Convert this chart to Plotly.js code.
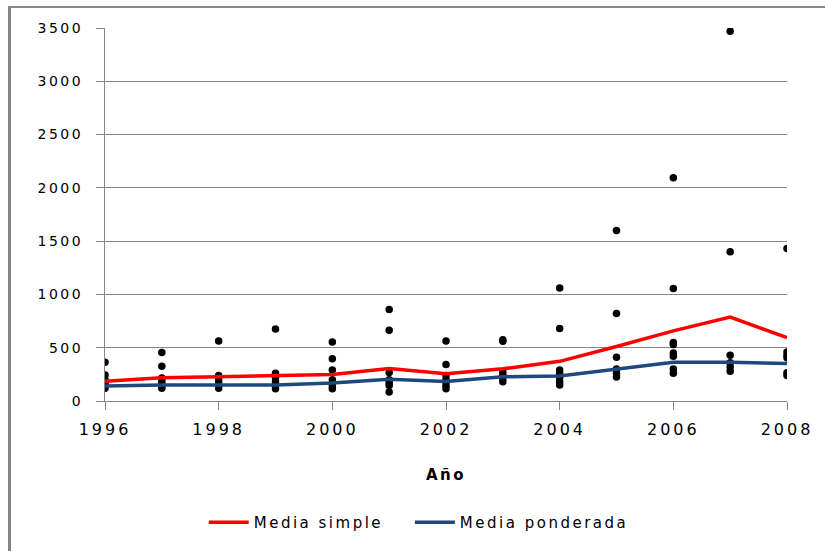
<!DOCTYPE html>
<html>
<head>
<meta charset="utf-8">
<script src="https://cdn.plot.ly/plotly-3.0.1.min.js"></script>
<style>
  html, body { margin: 0; padding: 0; background: #ffffff; }
  #wrap { position: relative; width: 825px; height: 551px; overflow: hidden; }
  #chart { position: absolute; left: 0; top: 0; width: 825px; height: 551px; }
  #frame { position: absolute; left: 8px; top: 6px; width: 830px; height: 560px;
           border-left: 3px solid #868686; border-top: 2px solid #868686; pointer-events: none; }
  svg text { letter-spacing: 2.5px; }
  .xtick text { letter-spacing: 3px; }
</style>
</head>
<body>
<div id="wrap">
  <div id="chart"></div>
  <div id="frame"></div>
</div>
<script>
const years = [1996, 1997, 1998, 1999, 2000, 2001, 2002, 2003, 2004, 2005, 2006, 2007, 2008];

const mediaSimple    = [185, 219, 228, 237, 249, 305, 256, 302, 372, 511, 658, 788, 594];
const mediaPonderada = [141, 151, 151, 151, 169, 203, 182, 228, 234, 295, 363, 363, 351];

const obs1996 = [363, 243, 200, 170, 145, 120];
const obs1997 = [455, 325, 215, 190, 165, 140, 120];
const obs1998 = [563, 240, 210, 180, 150, 120];
const obs1999 = [675, 260, 220, 180, 140, 115];
const obs2000 = [554, 397, 290, 200, 170, 140, 115];
const obs2001 = [859, 665, 268, 200, 170, 145, 85];
const obs2002 = [563, 342, 240, 205, 175, 145, 115];
const obs2003 = [575, 560, 270, 240, 210, 180];
const obs2004 = [1060, 680, 290, 255, 220, 180, 150];
const obs2005 = [1600, 822, 410, 300, 260, 225];
const obs2006 = [2095, 1055, 550, 530, 450, 420, 300, 260];
const obs2007 = [3470, 1400, 430, 360, 320, 280];
const obs2008 = [1430, 460, 430, 405, 265, 240];

const observations = [obs1996, obs1997, obs1998, obs1999, obs2000, obs2001, obs2002,
                      obs2003, obs2004, obs2005, obs2006, obs2007, obs2008];

const yTicks = [0, 500, 1000, 1500, 2000, 2500, 3000, 3500];
const xTicks = [1996, 1998, 2000, 2002, 2004, 2006, 2008];

const scX = [], scY = [];
observations.forEach((vals, i) => {
  vals.forEach(v => { scX.push(years[i]); scY.push(v); });
});

const fontFam = 'DejaVu Sans, Open Sans, sans-serif';
const pad = '\u00a0\u00a0\u00a0';

const traces = [
  {
    x: scX, y: scY, type: 'scatter', mode: 'markers',
    marker: { color: '#000000', size: 7.5 },
    showlegend: false, hoverinfo: 'x+y'
  },
  {
    x: years, y: mediaSimple, type: 'scatter', mode: 'lines',
    name: 'Media simple' + pad, line: { color: '#FF0000', width: 3.5 }
  },
  {
    x: years, y: mediaPonderada, type: 'scatter', mode: 'lines',
    name: 'Media ponderada', line: { color: '#1F497D', width: 3.5 }
  }
];

const layout = {
  width: 825, height: 551,
  margin: { l: 105, r: 38, t: 28, b: 144 },
  paper_bgcolor: '#ffffff', plot_bgcolor: '#ffffff',
  font: { family: fontFam, size: 15, color: '#000000' },
  showlegend: true,
  legend: {
    orientation: 'h', x: 0.46, xanchor: 'center', y: -0.326, yanchor: 'middle',
    font: { family: fontFam, size: 15, color: '#000000' },
    itemwidth: 40, tracegroupgap: 0
  },
  xaxis: {
    range: [1996, 2008], tickvals: xTicks, ticktext: xTicks.map(String),
    showgrid: false, zeroline: false,
    showline: true, linecolor: '#868686', linewidth: 1,
    ticks: 'outside', ticklen: 8, tickcolor: '#868686',
    ticklabelstandoff: 6,
    tickfont: { family: fontFam, size: 16, color: '#000000' },
    title: { text: '<b>Año</b>', font: { family: fontFam, size: 15 }, standoff: 31 },
    automargin: false, fixedrange: true
  },
  yaxis: {
    range: [0, 3500], tickvals: yTicks, ticktext: yTicks.map(String),
    showgrid: true, gridcolor: '#868686', gridwidth: 1,
    zeroline: false,
    showline: true, linecolor: '#868686', linewidth: 1,
    ticks: 'outside', ticklen: 8, tickcolor: '#868686',
    ticklabelstandoff: 10,
    tickfont: { family: fontFam, size: 14, color: '#000000' },
    automargin: false, fixedrange: true
  }
};

Plotly.newPlot('chart', traces, layout, { displayModeBar: false, staticPlot: true });
</script>
</body>
</html>
